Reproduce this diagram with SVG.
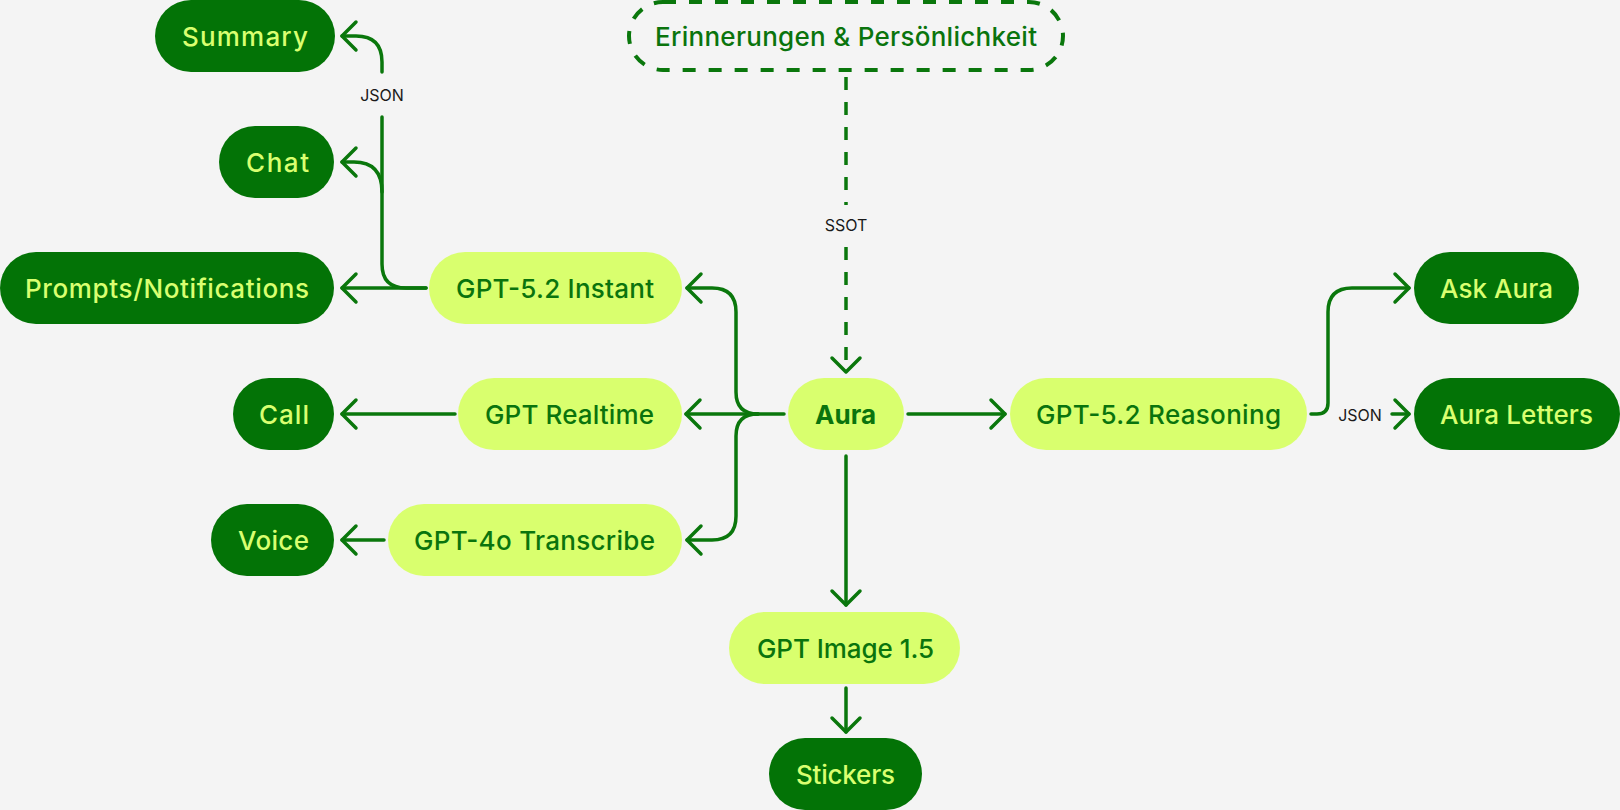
<svg xmlns="http://www.w3.org/2000/svg" width="1620" height="810" viewBox="0 0 1620 810">
<defs>
<style>
.bg{fill:#f4f4f4}
.dark rect{fill:#037306}
.dark text{fill:#d9ff70}
.light rect{fill:#d9ff6e}
.light text{fill:#0a740d}
text{font-family:Inter,"Open Sans","Liberation Sans",sans-serif;font-size:26px;font-weight:500;text-anchor:middle;dominant-baseline:central}
.bold text{font-weight:700}
.conn path{fill:none;stroke:#0a770c;stroke-width:3.5;stroke-linecap:round;stroke-linejoin:round}
.conn .dash{stroke-dasharray:13 12;stroke-linecap:butt}
.lbl{font-size:16px;font-weight:400;fill:#1a1a1a}
.mem rect{fill:none;stroke:#0a770c;stroke-width:4;stroke-dasharray:13 13}
.mem text{fill:#0a740d}
</style>
<marker id="arr" markerUnits="userSpaceOnUse" viewBox="-18 -18 22 36" refX="0" refY="0" markerWidth="22" markerHeight="36" orient="auto">
<path d="M-14,-14 L0,0 L-14,14" fill="none" stroke="#0a770c" stroke-width="3.5" stroke-linecap="round" stroke-linejoin="round" stroke-dasharray="none"/>
</marker>
</defs>
<rect class="bg" x="0" y="0" width="1620" height="810"/>

<g id="connectors" class="conn">
<path d="M426,288 H342" marker-end="url(#arr)"/>
<path d="M426,288 H406 Q382,288 382,264 V117 M382,72 V62 Q382,36 356,36 H342" marker-end="url(#arr)"/>
<path d="M382,192 Q382,162 354,162 H342" marker-end="url(#arr)"/>
<path d="M455,414 H342" marker-end="url(#arr)"/>
<path d="M384,540 H342" marker-end="url(#arr)"/>
<path d="M784,414 H686" marker-end="url(#arr)"/>
<path d="M758,414 Q736,414 736,392 V312 Q736,288 712,288 H687" marker-end="url(#arr)"/>
<path d="M758,414 Q736,414 736,436 V516 Q736,540 712,540 H687" marker-end="url(#arr)"/>
<path d="M908,414 H1005" marker-end="url(#arr)"/>
<path class="dash" d="M846,77 V205 M846,247 V372" marker-end="url(#arr)"/>
<path d="M846,456 V605" marker-end="url(#arr)"/>
<path d="M846,688 V732" marker-end="url(#arr)"/>
<path d="M1311,414 H1317 Q1328,414 1328,403 V312 Q1328,288 1352,288 H1409" marker-end="url(#arr)"/>
<path d="M1392,414 H1409" marker-end="url(#arr)"/>
<text class="lbl" x="382" y="95">JSON</text>
<text class="lbl" x="846" y="225">SSOT</text>
<text class="lbl" x="1360" y="415">JSON</text>
</g>

<g id="memory" class="mem"><rect x="629" y="2" width="434" height="68" rx="34"/><text x="846" y="36" textLength="382">Erinnerungen &amp; Persönlichkeit</text></g>
<g id="summary" class="dark"><rect x="155" y="0" width="180" height="72" rx="36"/><text x="245" y="36" textLength="126">Summary</text></g>
<g id="chat" class="dark"><rect x="219" y="126" width="115" height="72" rx="36"/><text x="277.5" y="162" textLength="63">Chat</text></g>
<g id="prompts" class="dark"><rect x="0" y="252" width="334" height="72" rx="36"/><text x="167" y="288" textLength="284">Prompts/Notifications</text></g>
<g id="call" class="dark"><rect x="233" y="378" width="101" height="72" rx="36"/><text x="284" y="414" textLength="50">Call</text></g>
<g id="voice" class="dark"><rect x="211" y="504" width="123" height="72" rx="36"/><text x="273.5" y="540" textLength="71">Voice</text></g>
<g id="instant" class="light"><rect x="429" y="252" width="253" height="72" rx="36"/><text x="555" y="288" textLength="198">GPT-5.2 Instant</text></g>
<g id="realtime" class="light"><rect x="458" y="378" width="224" height="72" rx="36"/><text x="569.5" y="414" textLength="169">GPT Realtime</text></g>
<g id="transcribe" class="light"><rect x="388" y="504" width="294" height="72" rx="36"/><text x="534.5" y="540" textLength="241">GPT-4o Transcribe</text></g>
<g id="aura" class="light bold"><rect x="788" y="378" width="116" height="72" rx="36"/><text x="845.5" y="414" textLength="61">Aura</text></g>
<g id="reasoning" class="light"><rect x="1010" y="378" width="297" height="72" rx="36"/><text x="1158.5" y="414" textLength="245">GPT-5.2 Reasoning</text></g>
<g id="askaura" class="dark"><rect x="1414" y="252" width="165" height="72" rx="36"/><text x="1496.5" y="288" textLength="113">Ask Aura</text></g>
<g id="letters" class="dark"><rect x="1414" y="378" width="206" height="72" rx="36"/><text x="1516.5" y="414" textLength="153">Aura Letters</text></g>
<g id="image" class="light"><rect x="729" y="612" width="231" height="72" rx="36"/><text x="845.5" y="648" textLength="177">GPT Image 1.5</text></g>
<g id="stickers" class="dark"><rect x="769" y="738" width="153" height="72" rx="36"/><text x="845.5" y="774" textLength="99">Stickers</text></g>
</svg>
